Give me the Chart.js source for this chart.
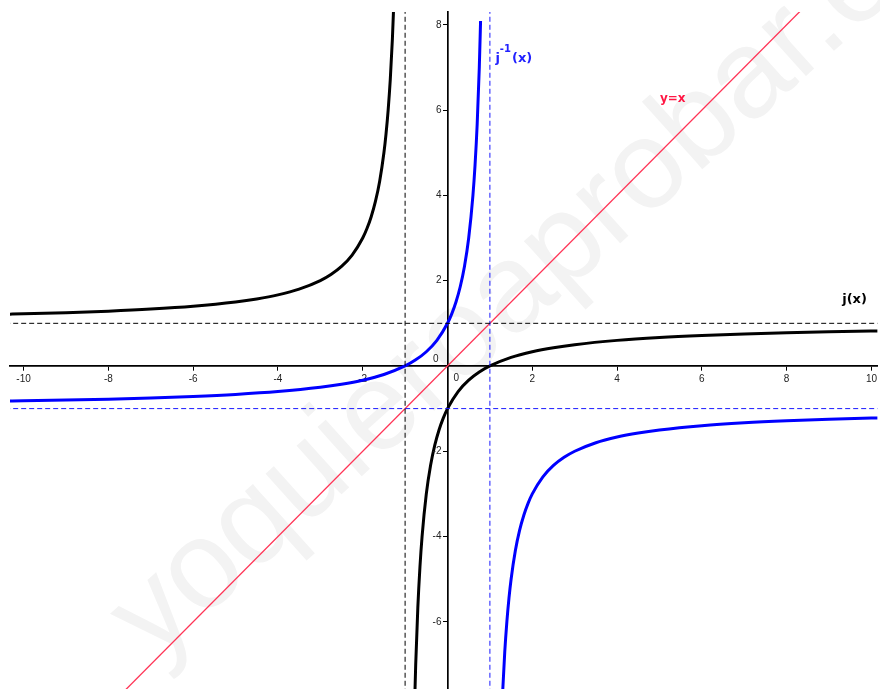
<!DOCTYPE html>
<html><head><meta charset="utf-8">
<script src="https://cdn.jsdelivr.net/npm/chart.js@4.4.1/dist/chart.umd.min.js"></script>
<style>html,body{margin:0;padding:0;background:#fff;overflow:hidden}canvas{display:block}</style>
</head><body>
<canvas id="c" width="880" height="689"></canvas>
<script>
// ---- data ----
const X_TICKS = [-10, -8, -6, -4, -2, 0, 2, 4, 6, 8, 10];
const Y_TICKS = [-6, -4, -2, 0, 2, 4, 6, 8];

// j(x), left branch
const J_LEFT_X = [-10.4, -10, -9, -8, -7, -6, -5, -4.5, -4, -3.5, -3, -2.75, -2.5, -2.25, -2, -1.9, -1.8, -1.7, -1.6, -1.5, -1.45, -1.4, -1.35, -1.3, -1.26];
const J_LEFT_Y = [1.2128, 1.2222, 1.25, 1.2857, 1.3333, 1.4, 1.5, 1.5714, 1.6667, 1.8, 2, 2.1429, 2.3333, 2.6, 3, 3.2222, 3.5, 3.8571, 4.3333, 5, 5.4444, 6, 6.7143, 7.6667, 8.6923];
// j(x), right branch
const J_RIGHT_X = [-0.78, -0.75, -0.7, -0.65, -0.6, -0.5, -0.4, -0.3, -0.2, -0.1, 0, 0.25, 0.5, 0.75, 1, 1.5, 2, 2.5, 3, 4, 5, 6, 7, 8, 9, 10, 10.4];
const J_RIGHT_Y = [-8.0909, -7, -5.6667, -4.7143, -4, -3, -2.3333, -1.8571, -1.5, -1.2222, -1, -0.6, -0.3333, -0.1429, 0, 0.2, 0.3333, 0.4286, 0.5, 0.6, 0.6667, 0.7143, 0.75, 0.7778, 0.8, 0.8182, 0.8246];
// j^-1(x), left branch
const JI_LEFT_X = [-10.4, -10, -9, -8, -7, -6, -5, -4, -3, -2.5, -2, -1.5, -1, -0.75, -0.5, -0.25, 0, 0.1, 0.2, 0.3, 0.4, 0.5, 0.6, 0.65, 0.7, 0.75, 0.78];
const JI_LEFT_Y = [-0.8246, -0.8182, -0.8, -0.7778, -0.75, -0.7143, -0.6667, -0.6, -0.5, -0.4286, -0.3333, -0.2, 0, 0.1429, 0.3333, 0.6, 1, 1.2222, 1.5, 1.8571, 2.3333, 3, 4, 4.7143, 5.6667, 7, 8.0909];
// j^-1(x), right branch
const JI_RIGHT_X = [1.26, 1.3, 1.35, 1.4, 1.45, 1.5, 1.6, 1.7, 1.8, 1.9, 2, 2.25, 2.5, 2.75, 3, 3.5, 4, 4.5, 5, 6, 7, 8, 9, 10, 10.4];
const JI_RIGHT_Y = [-8.6923, -7.6667, -6.7143, -6, -5.4444, -5, -4.3333, -3.8571, -3.5, -3.2222, -3, -2.6, -2.3333, -2.1429, -2, -1.8, -1.6667, -1.5714, -1.5, -1.4, -1.3333, -1.2857, -1.25, -1.2222, -1.2128];
// y = x
const ID_X = [-9, 9];
const ID_Y = [-9, 9];
// asymptotes
const J_VERT_X = -1;   // x = -1
const J_HORIZ_Y = 1;   // y = 1
const JI_VERT_X = 1;   // x = 1
const JI_HORIZ_Y = -1; // y = -1

// view window
const X_MIN = -10.32, X_MAX = 10.14;
const Y_MIN = -7.575, Y_MAX = 8.30;

// ---- helpers ----
const pts = (xs, ys) => xs.map((x, i) => ({x, y: ys[i]}));
const FONT = '"Liberation Sans", Arial, sans-serif';
const BOLD = '"DejaVu Sans", "Liberation Sans", sans-serif';

const curve = (data, color) => ({data, showLine: true, borderColor: color, borderWidth: 3, pointRadius: 0,
  cubicInterpolationMode: 'monotone', fill: false});
const dashed = (data, color) => ({data, showLine: true, borderColor: color, borderWidth: 1, pointRadius: 0,
  borderDash: [5, 3], fill: false});

const datasets = [
  dashed([{x: J_VERT_X, y: -9}, {x: J_VERT_X, y: 9}], '#000'),
  dashed([{x: -11, y: J_HORIZ_Y}, {x: 11, y: J_HORIZ_Y}], '#000'),
  dashed([{x: JI_VERT_X, y: -9}, {x: JI_VERT_X, y: 9}], '#1a1aff'),
  dashed([{x: -11, y: JI_HORIZ_Y}, {x: 11, y: JI_HORIZ_Y}], '#1a1aff'),
  {data: pts(ID_X, ID_Y), showLine: true, borderColor: '#ff3355', borderWidth: 1.3, pointRadius: 0, fill: false},
  curve(pts(J_LEFT_X, J_LEFT_Y), '#000'),
  curve(pts(J_RIGHT_X, J_RIGHT_Y), '#000'),
  curve(pts(JI_LEFT_X, JI_LEFT_Y), '#0000ff'),
  curve(pts(JI_RIGHT_X, JI_RIGHT_Y), '#0000ff'),
];

const overlay = {
  id: 'overlay',
  beforeDraw(chart) {
    const ctx = chart.ctx;
    ctx.save();
    ctx.fillStyle = '#fff';
    ctx.fillRect(0, 0, chart.width, chart.height);
    ctx.translate(154, 663);
    ctx.rotate(-42 * Math.PI / 180);
    ctx.font = '125px ' + FONT;
    ctx.fillStyle = '#f3f3f3';
    ctx.textBaseline = 'alphabetic';
    ctx.fillText('yoquieroaprobar.es', 0, 0);
    ctx.restore();
  },
  afterDatasetsDraw(chart) {
    const ctx = chart.ctx, xs = chart.scales.x, ys = chart.scales.y;
    const x0 = xs.getPixelForValue(0), y0 = ys.getPixelForValue(0);
    ctx.save();
    // y tick labels
    ctx.font = '10px ' + FONT;
    ctx.fillStyle = '#222';
    ctx.textAlign = 'right';
    ctx.textBaseline = 'middle';
    Y_TICKS.forEach(v => {
      if (v === 0) return;
      ctx.fillText(String(v), x0 - 6, ys.getPixelForValue(v));
    });
    // origin labels
    ctx.fillText('0', x0 - 9, y0 - 7);
    ctx.textAlign = 'left';
    ctx.fillText('0', x0 + 6, y0 + 12);
    // function labels
    ctx.textBaseline = 'alphabetic';
    ctx.font = 'bold 13px ' + BOLD;
    ctx.fillStyle = '#000';
    ctx.fillText('j(x)', xs.getPixelForValue(9.31), ys.getPixelForValue(1.47));
    ctx.fillStyle = '#2222ff';
    const jx = xs.getPixelForValue(1.13), jy = ys.getPixelForValue(7.13);
    ctx.fillText('j', jx, jy);
    const wj = ctx.measureText('j').width;
    ctx.font = 'bold 10px ' + BOLD;
    ctx.fillText('-1', jx + wj, jy - 10);
    const ws = ctx.measureText('-1').width;
    ctx.font = 'bold 13px ' + BOLD;
    ctx.fillText('(x)', jx + wj + ws + 1, jy);
    ctx.fillStyle = '#ff1744';
    ctx.font = 'bold 12px ' + BOLD;
    ctx.fillText('y=x', xs.getPixelForValue(5.01), ys.getPixelForValue(6.2));
    ctx.restore();
  }
};

new Chart(document.getElementById('c'), {
  type: 'scatter',
  data: {datasets},
  plugins: [overlay],
  options: {
    responsive: false,
    animation: false,
    devicePixelRatio: 1,
    layout: {padding: {left: 10, top: 12, right: 0, bottom: 0}},
    plugins: {legend: {display: false}, tooltip: {enabled: false}},
    scales: {
      x: {
        type: 'linear', min: X_MIN, max: X_MAX, position: {y: 0},
        afterBuildTicks: s => { s.ticks = X_TICKS.map(v => ({value: v})); },
        afterFit: s => { s.height = 0; },
        border: {display: true, color: '#000', width: 1.7},
        grid: {display: true, drawOnChartArea: false, drawTicks: true, tickLength: 4, color: '#000', tickColor: '#000', lineWidth: 1},
        ticks: {font: {family: FONT, size: 10}, color: '#222', padding: 3, maxRotation: 0, autoSkip: false,
          callback: v => v === 0 ? '' : String(v)}
      },
      y: {
        type: 'linear', min: Y_MIN, max: Y_MAX, position: {x: 0},
        afterBuildTicks: s => { s.ticks = Y_TICKS.map(v => ({value: v})); },
        afterFit: s => { s.width = 0; },
        border: {display: true, color: '#000', width: 1.7},
        grid: {display: true, drawOnChartArea: false, drawTicks: true, tickLength: 4, color: '#000', tickColor: '#000', lineWidth: 1},
        ticks: {display: false}
      }
    }
  }
});
</script>
</body></html>
